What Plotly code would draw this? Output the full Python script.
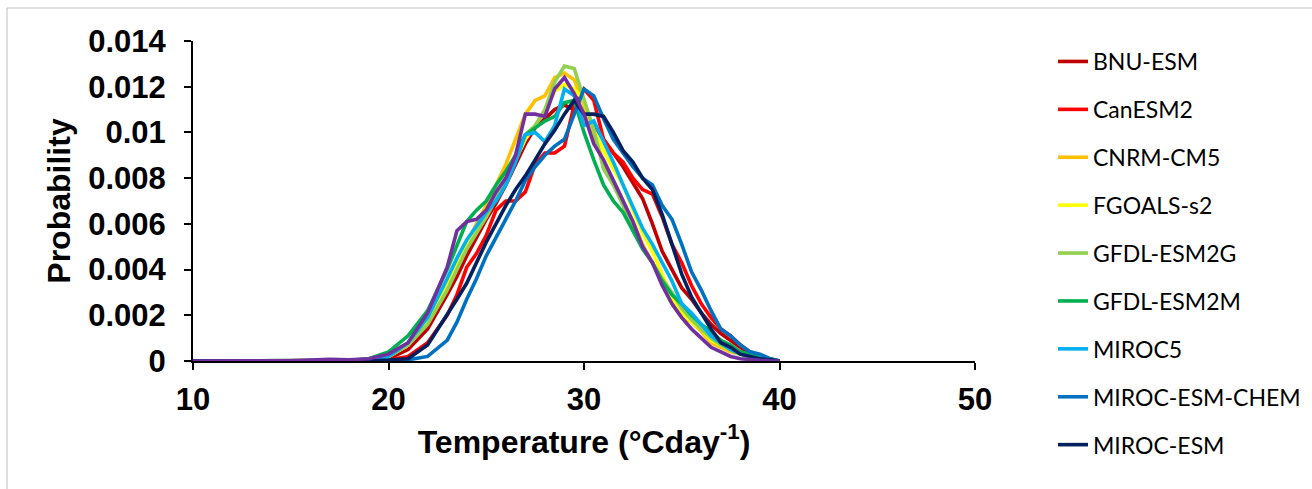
import plotly.graph_objects as go

# Temperature (°C day^-1)
temp = [10, 15, 17, 18, 19, 20, 21, 22, 23, 23.5, 24, 24.5, 25, 25.5, 26, 26.5, 27, 27.5, 28, 28.5,
        29, 29.5, 30, 30.5, 31, 31.5, 32, 32.5, 33, 33.5, 34, 34.5, 35, 35.5, 36, 36.5, 37, 37.5,
        38, 38.5, 39, 39.5, 40]

bnu_esm = [0, 0, 0, 0.00002, 0.00004, 0.0001, 0.0005, 0.0014, 0.0029, 0.0037, 0.0046, 0.0054, 0.0062, 0.0069,
           0.0077, 0.0086, 0.0095, 0.0102, 0.0106, 0.0110, 0.0112, 0.0110, 0.0108, 0.0103, 0.0097, 0.0091,
           0.0085, 0.0078, 0.0071, 0.0060, 0.0048, 0.0040, 0.0032, 0.0027, 0.0021, 0.0016, 0.0012, 0.0009,
           0.0006, 0.0003, 0.0001, 0.00005, 0]
canesm2 = [0, 0, 0, 0.00001, 0.00002, 0.00004, 0.0002, 0.0008, 0.0020, 0.0029, 0.0041, 0.0047, 0.0055, 0.0066,
           0.0070, 0.0070, 0.0074, 0.0086, 0.0091, 0.0091, 0.0094, 0.0112, 0.0119, 0.0114, 0.0097, 0.0091,
           0.0087, 0.0080, 0.0075, 0.0073, 0.0063, 0.0051, 0.0043, 0.0033, 0.0025, 0.0019, 0.0014, 0.0011,
           0.0007, 0.0004, 0.0002, 0.0001, 0]
cnrm_cm5 = [0, 0, 0, 0.00002, 0.00005, 0.0002, 0.0007, 0.0017, 0.0033, 0.0042, 0.0051, 0.0060, 0.0068, 0.0077,
            0.0086, 0.0097, 0.0108, 0.0114, 0.0116, 0.0124, 0.0126, 0.0123, 0.0112, 0.0099, 0.0087, 0.0079,
            0.0070, 0.0061, 0.0051, 0.0043, 0.0035, 0.0025, 0.0019, 0.0017, 0.0013, 0.0008, 0.0006, 0.0004,
            0.0003, 0.0002, 0.0001, 0.00005, 0]
fgoals_s2 = [0, 0, 0, 0.00002, 0.00005, 0.0002, 0.0007, 0.0017, 0.0034, 0.0042, 0.0050, 0.0058, 0.0065, 0.0073,
             0.0081, 0.0088, 0.0097, 0.0103, 0.0110, 0.0118, 0.0121, 0.0119, 0.0114, 0.0101, 0.0092, 0.0084,
             0.0077, 0.0066, 0.0056, 0.0048, 0.0038, 0.0028, 0.0021, 0.0017, 0.0014, 0.0009, 0.0007, 0.0005,
             0.0003, 0.0002, 0.0001, 0.00005, 0]
gfdl_esm2g = [0, 0, 0, 0.00002, 0.00005, 0.0002, 0.0007, 0.0016, 0.0031, 0.0040, 0.0049, 0.0056, 0.0063, 0.0071,
              0.0079, 0.0090, 0.0099, 0.0103, 0.0110, 0.0122, 0.0129, 0.0128, 0.0114, 0.0101, 0.0084, 0.0077,
              0.0068, 0.0057, 0.0050, 0.0043, 0.0036, 0.0030, 0.0023, 0.0018, 0.0014, 0.0010, 0.0007, 0.0005,
              0.0003, 0.0002, 0.0001, 0.00005, 0]
gfdl_esm2m = [0, 0, 0, 0.00003, 0.0001, 0.0004, 0.0011, 0.0022, 0.0040, 0.0051, 0.0061, 0.0066, 0.0070, 0.0077,
              0.0083, 0.0090, 0.0099, 0.0102, 0.0105, 0.0107, 0.0113, 0.0114, 0.0100, 0.0088, 0.0077, 0.0070,
              0.0065, 0.0057, 0.0049, 0.0043, 0.0035, 0.0029, 0.0025, 0.0020, 0.0016, 0.0013, 0.0009, 0.0007,
              0.0004, 0.0003, 0.0002, 0.0001, 0]
miroc5 = [0, 0, 0, 0.00002, 0.00005, 0.0002, 0.0008, 0.0019, 0.0036, 0.0045, 0.0053, 0.0059, 0.0065, 0.0070,
          0.0077, 0.0087, 0.0099, 0.0100, 0.0096, 0.0103, 0.0119, 0.0116, 0.0103, 0.0105, 0.0096, 0.0087,
          0.0077, 0.0067, 0.0058, 0.0051, 0.0043, 0.0035, 0.0025, 0.0021, 0.0016, 0.0011, 0.0008, 0.0005,
          0.0003, 0.0002, 0.0001, 0.00005, 0]
miroc_esm_chem = [0, 0, 0, 0, 0.00001, 0.00002, 0.00005, 0.0002, 0.0009, 0.0017, 0.0027, 0.0036, 0.0046, 0.0054,
                  0.0062, 0.0070, 0.0079, 0.0085, 0.0090, 0.0094, 0.0097, 0.0108, 0.0119, 0.0116, 0.0106, 0.0097,
                  0.0091, 0.0085, 0.0080, 0.0077, 0.0068, 0.0062, 0.0051, 0.0039, 0.0031, 0.0022, 0.0014, 0.0011,
                  0.0007, 0.0004, 0.0003, 0.0001, 0]
miroc_esm = [0, 0, 0, 0, 0.00001, 0.00004, 0.0001, 0.0007, 0.0020, 0.0027, 0.0034, 0.0043, 0.0052, 0.0060,
             0.0068, 0.0075, 0.0081, 0.0088, 0.0095, 0.0101, 0.0108, 0.0114, 0.0108, 0.0108, 0.0107, 0.0100,
             0.0092, 0.0087, 0.0080, 0.0075, 0.0064, 0.0051, 0.0038, 0.0028, 0.0021, 0.0014, 0.0008, 0.0006,
             0.0003, 0.0002, 0.0001, 0.00005, 0]
model_10 = [0, 0.00001, 0.00007, 0.00005, 0.0001, 0.0003, 0.0008, 0.0021, 0.0041, 0.0057, 0.0061, 0.0062, 0.0066,
            0.0074, 0.0080, 0.0090, 0.0108, 0.0108, 0.0107, 0.0119, 0.0124, 0.0117, 0.0108, 0.0095, 0.0088,
            0.0079, 0.0070, 0.0061, 0.0050, 0.0043, 0.0033, 0.0025, 0.0019, 0.0014, 0.0010, 0.0006, 0.0004,
            0.0002, 0.0001, 0.00005, 0.00003, 0.00001, 0]

series_names = ["BNU-ESM", "CanESM2", "CNRM-CM5", "FGOALS-s2", "GFDL-ESM2G", "GFDL-ESM2M",
                "MIROC5", "MIROC-ESM-CHEM", "MIROC-ESM", "Model 10"]
series_values = [bnu_esm, canesm2, cnrm_cm5, fgoals_s2, gfdl_esm2g, gfdl_esm2m,
                 miroc5, miroc_esm_chem, miroc_esm, model_10]
series_colors = ["#C00000", "#FF0000", "#FFC000", "#FFFF00", "#92D050", "#00B050",
                 "#00B0F0", "#0070C0", "#002060", "#7030A0"]
series_in_legend = [True] * 9 + [False]

y_tickvals = [0, 0.002, 0.004, 0.006, 0.008, 0.01, 0.012, 0.014]
y_ticktext = ["0", "0.002", "0.004", "0.006", "0.008", "0.01", "0.012", "0.014"]
x_tickvals = [10, 20, 30, 40, 50]

fig = go.Figure()
for name, vals, col, show in zip(series_names, series_values, series_colors, series_in_legend):
    fig.add_trace(go.Scatter(x=temp, y=vals, mode="lines", name=name, legendgroup=name,
                             showlegend=show, line=dict(color=col, width=3.6)))

W, H = 1312, 489
L, R, T, B = 193, 337, 41, 128
pw, ph = W - L - R, H - T - B

def px_x(p):
    return (p - L) / pw

def px_y(p):
    return (H - B - p) / ph

tick_font = dict(family="Liberation Sans, Arial, sans-serif", size=31, color="black", weight="bold")
title_font = dict(family="Liberation Sans, Arial, sans-serif", size=32, color="black", weight="bold")

fig.update_layout(
    width=W, height=H,
    margin=dict(l=L, r=R, t=T, b=B, pad=0, autoexpand=False),
    paper_bgcolor="white", plot_bgcolor="white",
    showlegend=True,
    legend=dict(x=px_x(1053), y=px_y(40), xanchor="left", yanchor="top",
                traceorder="grouped", tracegroupgap=15, maxheight=470,
                font=dict(family="Lato, Carlito, sans-serif", size=23, color="black"),
                bgcolor="rgba(0,0,0,0)"),
    xaxis=dict(range=[10, 50], tickvals=x_tickvals, showline=True, linecolor="black", linewidth=2,
               ticks="outside", ticklen=7, tickwidth=2, tickcolor="black", showgrid=False, zeroline=False,
               tickfont=tick_font, ticklabelstandoff=3, automargin=False,
               title=dict(text="Temperature (°Cday<sup>-1</sup>)", font=title_font, standoff=14)),
    yaxis=dict(range=[0, 0.014], tickvals=y_tickvals, ticktext=y_ticktext, showline=True, linecolor="black",
               linewidth=2, ticks="outside", ticklen=7, tickwidth=2, tickcolor="black", showgrid=False,
               zeroline=False, tickfont=tick_font, ticklabelstandoff=12, automargin=False,
               title=dict(text="Probability", font=title_font, standoff=8)),
    shapes=[dict(type="rect", xref="paper", yref="paper", x0=px_x(7), x1=px_x(1330), y0=px_y(500),
                 y1=px_y(8), line=dict(color="#BFBFBF", width=1), fillcolor="rgba(0,0,0,0)", layer="below")],
)

fig.write_html("out.html")
